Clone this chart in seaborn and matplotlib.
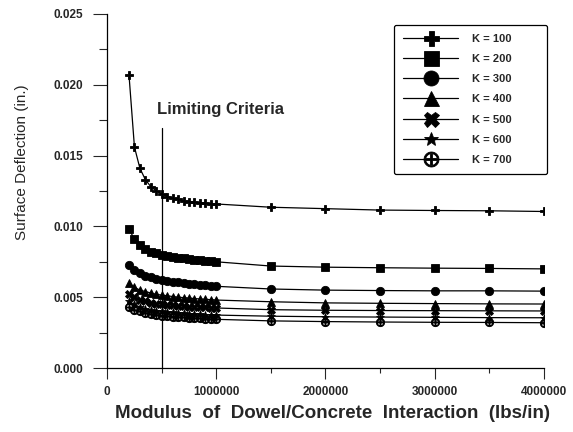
import matplotlib
matplotlib.use("Agg")
import matplotlib.pyplot as plt
import matplotlib.ticker as mticker
import pandas as pd
import seaborn as sns

# x positions (lbs/in)
modulus = [200000, 250000, 300000, 350000, 400000, 450000, 500000, 550000, 600000,
           650000, 700000, 750000, 800000, 850000, 900000, 950000, 1000000,
           1500000, 2000000, 2500000, 3000000, 3500000, 4000000]

k100 = [0.0207, 0.0156, 0.0141, 0.0133, 0.0128, 0.0125, 0.0123, 0.0121, 0.0120,
        0.0119, 0.0118, 0.01175, 0.0117, 0.01167, 0.01163, 0.0116, 0.01158,
        0.01135, 0.01125, 0.01115, 0.01112, 0.0111, 0.01105]
k200 = [0.0098, 0.0091, 0.0087, 0.0084, 0.0082, 0.0081, 0.0080, 0.0079, 0.00785,
        0.0078, 0.00775, 0.0077, 0.00765, 0.0076, 0.00757, 0.00753, 0.0075,
        0.0072, 0.00712, 0.00708, 0.00705, 0.00703, 0.0070]
k300 = [0.0073, 0.0069, 0.0067, 0.0065, 0.0064, 0.0063, 0.0062, 0.00615, 0.0061,
        0.00605, 0.0060, 0.00595, 0.0059, 0.00587, 0.00583, 0.0058, 0.00577,
        0.00558, 0.0055, 0.00547, 0.00545, 0.00545, 0.00543]
k400 = [0.0060, 0.0057, 0.0055, 0.0054, 0.0053, 0.0052, 0.00515, 0.0051, 0.00505,
        0.0050, 0.00497, 0.00494, 0.0049, 0.00488, 0.00485, 0.00483, 0.0048,
        0.00468, 0.0046, 0.00457, 0.00455, 0.00453, 0.00452]
k500 = [0.0052, 0.0050, 0.0048, 0.0047, 0.0046, 0.00455, 0.0045, 0.00446, 0.00442,
        0.00439, 0.00436, 0.00434, 0.00432, 0.0043, 0.00428, 0.00426, 0.00424,
        0.00412, 0.00408, 0.00406, 0.00405, 0.00404, 0.00403]
k600 = [0.0047, 0.0045, 0.0043, 0.0042, 0.0041, 0.00405, 0.0040, 0.00396, 0.00393,
        0.0039, 0.00387, 0.00385, 0.00382, 0.0038, 0.00378, 0.00376, 0.00374,
        0.00366, 0.00362, 0.0036, 0.00358, 0.00356, 0.00355]
k700 = [0.0043, 0.0041, 0.0040, 0.0039, 0.0038, 0.00375, 0.0037, 0.00366, 0.00363,
        0.0036, 0.00357, 0.00355, 0.00352, 0.0035, 0.00348, 0.00346, 0.00344,
        0.00333, 0.00328, 0.00325, 0.00323, 0.00322, 0.0032]

series_labels = ["K = 100", "K = 200", "K = 300", "K = 400", "K = 500", "K = 600", "K = 700"]
series_values = [k100, k200, k300, k400, k500, k600, k700]
series_markers = ["P", "s", "o", "^", "X", "*", r"$\oplus$"]

limit_x = 500000
limit_top = 0.01695

rows = []
for label, vals in zip(series_labels, series_values):
    for x, y in zip(modulus, vals):
        rows.append({"modulus": x, "deflection": y, "K": label})
df = pd.DataFrame(rows)

sns.set_style("ticks")
plt.rcParams["font.family"] = ["Liberation Sans", "DejaVu Sans"]

fig = plt.figure(figsize=(5.73, 4.32), dpi=100)
ax = fig.add_axes([0.187, 0.148, 0.762, 0.820])

sns.lineplot(data=df, x="modulus", y="deflection", hue="K", style="K",
             palette={l: "black" for l in series_labels},
             markers=dict(zip(series_labels, series_markers)), dashes=False,
             markersize=6, linewidth=0.9, markeredgewidth=0.6, markeredgecolor="black",
             ax=ax)

# limiting criteria marker line
ax.plot([limit_x, limit_x], [0, limit_top], color="black", linewidth=0.9)
ax.text(457000, 0.01794, "Limiting Criteria", fontsize=12, fontweight="bold",
        ha="left", va="baseline")

ax.set_xlim(0, 4000000)
ax.set_ylim(0, 0.025)
ax.xaxis.set_major_locator(mticker.MultipleLocator(1000000))
ax.xaxis.set_minor_locator(mticker.MultipleLocator(500000))
ax.yaxis.set_major_locator(mticker.MultipleLocator(0.005))
ax.yaxis.set_minor_locator(mticker.MultipleLocator(0.0025))
ax.xaxis.set_major_formatter(mticker.FuncFormatter(lambda v, p: f"{int(v)}"))
ax.yaxis.set_major_formatter(mticker.FormatStrFormatter("%.3f"))
ax.tick_params(axis="y", which="major", length=10, width=0.8, labelsize=8.5, pad=7)
ax.tick_params(axis="y", which="minor", length=6, width=0.8)
ax.tick_params(axis="x", which="major", length=8, width=0.8, labelsize=8.5, pad=5)
ax.tick_params(axis="x", which="minor", length=3.5, width=0.8)
for lab in ax.get_xticklabels() + ax.get_yticklabels():
    lab.set_fontweight("bold")
sns.despine(ax=ax)
for s in ["left", "bottom"]:
    ax.spines[s].set_linewidth(0.9)
    ax.spines[s].set_color("black")

ax.set_xlabel("Modulus  of  Dowel/Concrete  Interaction  (lbs/in)", fontsize=13.5,
              fontweight="bold")
ax.xaxis.set_label_coords(0.515, -0.105)
ax.set_ylabel("Surface Deflection (in.)", fontsize=11)
ax.yaxis.set_label_coords(-0.18, 0.582)

handles, labels = ax.get_legend_handles_labels()
leg = ax.legend(handles, labels, loc="upper left", bbox_to_anchor=(0.657, 0.5, 0.350, 0.469),
                mode="expand", borderaxespad=0,
                frameon=True, fancybox=True, edgecolor="black", framealpha=1,
                markerscale=1.8, handlelength=5.0, fontsize=8, labelspacing=0.92,
                borderpad=0.8, handletextpad=1.2, title=None)
leg.get_frame().set_linewidth(0.9)
for t in leg.get_texts():
    t.set_fontweight("bold")

fig.savefig("out.png", dpi=100)
